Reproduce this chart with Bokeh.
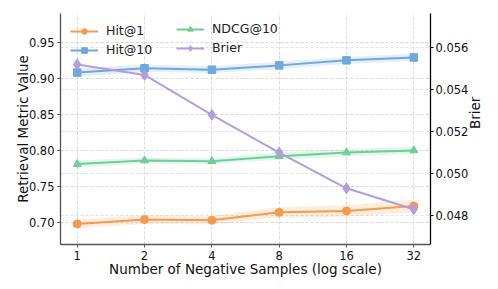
from bokeh.plotting import figure
from bokeh.models import (Range1d, LinearAxis, FixedTicker, Legend, LegendItem,
                          NumeralTickFormatter, Grid)
from bokeh.embed import file_html
from bokeh.resources import INLINE
import math

neg_samples = [1, 2, 4, 8, 16, 32]
hit1 = [0.698, 0.704, 0.703, 0.714, 0.716, 0.723]
hit10 = [0.908, 0.914, 0.912, 0.918, 0.925, 0.929]
ndcg10 = [0.781, 0.786, 0.785, 0.792, 0.797, 0.800]
brier = [0.0552, 0.0547, 0.0528, 0.0510, 0.0493, 0.0483]
hit1_err = [0.006, 0.006, 0.006, 0.007, 0.008, 0.009]
hit10_err = [0.006, 0.005, 0.005, 0.005, 0.005, 0.005]
ndcg10_err = [0.005, 0.004, 0.004, 0.005, 0.005, 0.005]
left_ticks = [0.70, 0.75, 0.80, 0.85, 0.90, 0.95]
right_ticks = [0.048, 0.050, 0.052, 0.054, 0.056]

C_ORANGE = "#f59a4e"
C_BLUE = "#6fa7de"
C_GREEN = "#6ccf97"
C_PURPLE = "#b39ddf"
FONT = "DejaVu Sans"

p = figure(x_axis_type="log", output_backend="svg", toolbar_location=None,
           frame_width=370, frame_height=231,
           x_range=Range1d(0.842, 38.0), y_range=Range1d(0.6694, 0.990),
           min_border_left=60, min_border_right=62, min_border_top=13,
           min_border_bottom=38)
p.outline_line_color = None
p.background_fill_color = "white"
p.border_fill_color = "white"
p.extra_y_ranges = {"brier": Range1d(0.04662, 0.05763)}

for g in (p.xgrid, p.ygrid):
    g.grid_line_color = "#cfcfcf"
    g.grid_line_dash = "3 2"
    g.grid_line_width = 0.8
p.xgrid.ticker = FixedTicker(ticks=neg_samples)
p.ygrid.ticker = FixedTicker(ticks=left_ticks)

rg = Grid(dimension=1, ticker=FixedTicker(ticks=right_ticks), y_range_name="brier",
          grid_line_color="#d9d9d9", grid_line_dash="3 2", grid_line_width=0.8)
p.add_layout(rg)

def band(vals, errs, color):
    lo = [v - e for v, e in zip(vals, errs)]
    hi = [v + e for v, e in zip(vals, errs)]
    p.varea(x=neg_samples, y1=lo, y2=hi, fill_color=color, fill_alpha=0.18)

band(hit1, hit1_err, C_ORANGE)
band(hit10, hit10_err, C_BLUE)
band(ndcg10, ndcg10_err, C_GREEN)

l1 = p.line(neg_samples, hit1, line_color=C_ORANGE, line_width=2)
m1 = p.scatter(neg_samples, hit1, marker="circle", size=8, fill_color=C_ORANGE, line_color=C_ORANGE)
l2 = p.line(neg_samples, hit10, line_color=C_BLUE, line_width=2)
m2 = p.scatter(neg_samples, hit10, marker="square", size=7.5, fill_color=C_BLUE, line_color=C_BLUE)
l3 = p.line(neg_samples, ndcg10, line_color=C_GREEN, line_width=2)
m3 = p.scatter(neg_samples, ndcg10, marker="triangle", size=8, fill_color=C_GREEN, line_color=C_GREEN)
l4 = p.line(neg_samples, brier, line_color=C_PURPLE, line_width=2, y_range_name="brier")
m4 = p.scatter(neg_samples, brier, marker="diamond", size=11, fill_color=C_PURPLE,
               line_color=C_PURPLE, y_range_name="brier")

def make_legend(items, location):
    lg = Legend(items=items, location=location, orientation="vertical")
    lg.border_line_color = None
    lg.background_fill_alpha = 0.0
    lg.label_text_font = FONT
    lg.label_text_font_size = "12.5px"
    lg.label_text_color = "#222222"
    lg.glyph_width = 28
    lg.glyph_height = 14
    lg.label_standoff = 8
    lg.spacing = 4
    lg.padding = 0
    lg.margin = 10
    lg.label_height = 14
    p.add_layout(lg)
    return lg

make_legend([LegendItem(label="Hit@1", renderers=[l1, m1]),
             LegendItem(label="Hit@10", renderers=[l2, m2])], "top_left")
make_legend([LegendItem(label="NDCG@10", renderers=[l3, m3]),
             LegendItem(label="Brier", renderers=[l4, m4])], (116, 189))

def style_axis(ax, color):
    ax.axis_line_color = color
    ax.axis_line_width = 1.3
    ax.major_tick_line_color = color
    ax.major_tick_out = 3
    ax.major_tick_in = 0
    ax.minor_tick_line_color = None
    ax.major_label_text_font = FONT
    ax.major_label_text_font_size = "11.5px"
    ax.major_label_text_color = "#111111"
    ax.axis_label_text_font = FONT
    ax.axis_label_text_font_size = "13.5px"
    ax.axis_label_text_font_style = "normal"
    ax.axis_label_text_color = "#111111"

xa = p.xaxis[0]
style_axis(xa, "#555555")
xa.ticker = FixedTicker(ticks=neg_samples)
xa.major_label_overrides = {n: str(n) for n in neg_samples}
xa.axis_label = "Number of Negative Samples (log scale)"
xa.major_label_standoff = 3
xa.axis_label_standoff = -2

ya = p.yaxis[0]
style_axis(ya, "#555555")
ya.ticker = FixedTicker(ticks=left_ticks)
ya.formatter = NumeralTickFormatter(format="0.00")
ya.axis_label = "Retrieval Metric Value"
ya.major_label_standoff = 3
ya.axis_label_standoff = -5

ra = LinearAxis(y_range_name="brier", axis_label="Brier")
style_axis(ra, "#000000")
ra.ticker = FixedTicker(ticks=right_ticks)
ra.formatter = NumeralTickFormatter(format="0.000")
ra.major_label_standoff = 2
ra.axis_label_standoff = 4
ra.axis_label_orientation = math.pi / 2
p.add_layout(ra, "right")

open("out.html", "w").write(file_html(p, INLINE))
